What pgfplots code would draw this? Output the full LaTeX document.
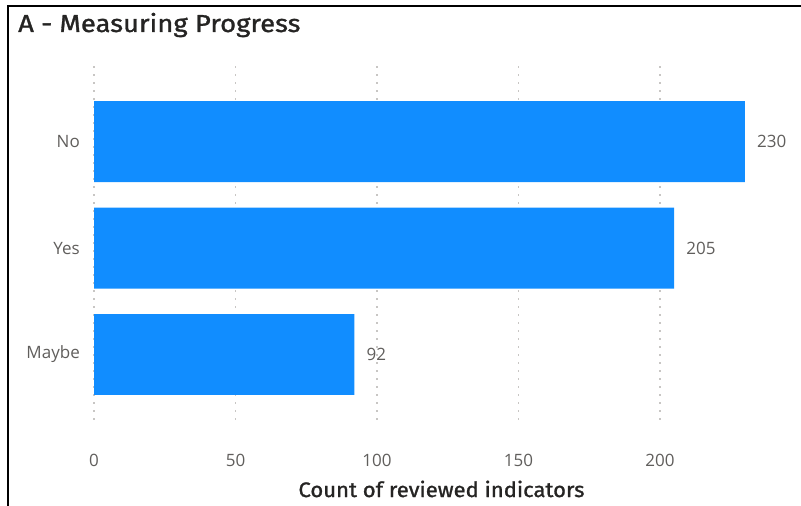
\documentclass[border=0pt]{standalone}
\usepackage{pgfplots}
\pgfplotsset{compat=1.18}
\usepackage{fontspec}
\setmainfont{Fira Sans}
\newfontfamily\titlefont[FakeStretch=1.12, FakeBold=1.2]{Fira Sans}
\newfontfamily\axtitlefont[FakeStretch=1.05, FakeBold=1.2]{Fira Sans}
\newfontfamily\labelfont{Open Sans}
\definecolor{barblue}{HTML}{118DFF}
\definecolor{ticklab}{HTML}{605E5C}
\definecolor{titlecol}{HTML}{252423}
\definecolor{gridc}{HTML}{C8C6C4}
\begin{document}
\begin{tikzpicture}[x=1bp,y=1bp]
\path[use as bounding box] (0,0) rectangle (801,506);
\draw[line width=2.5bp, black] (8,0) -- (8,500) -- (801,500);
\node[anchor=base west, inner sep=0, text=titlecol, font=\titlefont\fontsize{24.5bp}{28bp}\selectfont] at (18,474) {A - Measuring Progress};
\begin{axis}[
  at={(94bp,86bp)}, anchor=south west,
  scale only axis, width=679.2bp, height=355bp,
  xbar, bar width=0.76,
  xmin=0, xmax=240, ymin=-0.615, ymax=2.72,
  axis line style={draw=none},
  major tick length=0,
  xtick={0,50,100,150,200},
  ytick={0,1,2}, yticklabels={Maybe,Yes,No},
  xmajorgrids, major grid style={gridc, line width=1.6bp, dash pattern=on 1.6bp off 6.4bp},
  xticklabel style={anchor=base, yshift=-47bp, text=ticklab, font=\labelfont\fontsize{17bp}{20bp}\selectfont},
  yticklabel style={anchor=east, xshift=-14bp, text=ticklab, font=\labelfont\fontsize{17bp}{20bp}\selectfont, inner sep=0},
  /pgf/number format/assume math mode=true,
  xlabel={Count of reviewed indicators},
  xlabel style={anchor=base, at={(axis description cs:0.5116,-0.217)}, text=titlecol, font=\axtitlefont\fontsize{21bp}{24bp}\selectfont},
  nodes near coords,
  nodes near coords style={anchor=west, inner sep=0, xshift=12bp, text=ticklab, font=\labelfont\fontsize{17bp}{20bp}\selectfont},
]
\addplot[fill=barblue, draw=none] coordinates {(92,0) (205,1) (230,2)};
\end{axis}
\end{tikzpicture}
\end{document}
